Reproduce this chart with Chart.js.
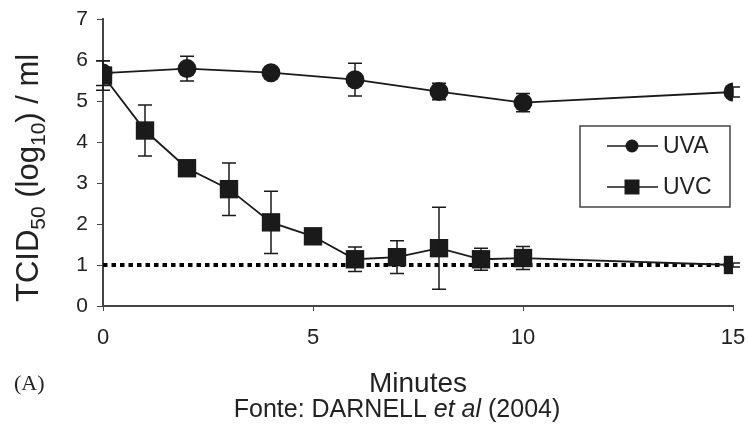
<!DOCTYPE html>
<html>
<head>
<meta charset="utf-8">
<script src="https://cdn.jsdelivr.net/npm/chart.js@4.4.1/dist/chart.umd.min.js"></script>
<style>
  html, body { margin: 0; padding: 0; background: #fff; }
  #wrap { width: 748px; height: 425px; }
</style>
</head>
<body>
<div id="wrap"><canvas id="myChart" width="748" height="425"></canvas></div>
<script>
(function () {
    "use strict";

    // values (minutes vs TCID50 log10/ml)
    const uvaMinutes = [0, 2, 4, 6, 8, 10, 15];
    const uvaValues = [5.68, 5.79, 5.69, 5.52, 5.23, 4.96, 5.22];
    const uvaError = [0.3, 0.3, 0.08, 0.4, 0.2, 0.22, 0.12];

    const uvcMinutes = [0, 1, 2, 3, 4, 5, 6, 7, 8, 9, 10, 15];
    const uvcValues = [5.62, 4.28, 3.36, 2.85, 2.04, 1.70, 1.14, 1.19, 1.41, 1.14, 1.17, 1.0];
    const uvcError = [0.36, 0.62, 0.1, 0.64, 0.76, 0.1, 0.3, 0.4, 1.0, 0.27, 0.28, 0.05];

    const limitMinutes = [0, 15];
    const limitValues = [1, 1];

    const xTicks = [0, 5, 10, 15];
    const yTicks = [0, 1, 2, 3, 4, 5, 6, 7];

    const ink = '#1a1a1a';
    const sans = '"Liberation Sans", Arial, sans-serif';

    function points(xs, ys) {
        return xs.map(function (x, i) { return { x: x, y: ys[i] }; });
    }

    // error bars drawn from the arrays above through the chart scales
    const errorBars = {
        id: 'errorBars',
        afterDatasetsDraw: function (chart) {
            const ctx = chart.ctx;
            const xs = chart.scales.x;
            const ys = chart.scales.y;
            const sets = [
                [uvaMinutes, uvaValues, uvaError],
                [uvcMinutes, uvcValues, uvcError]
            ];
            ctx.save();
            ctx.strokeStyle = ink;
            ctx.lineWidth = 1.5;
            sets.forEach(function (s) {
                s[0].forEach(function (m, i) {
                    const px = xs.getPixelForValue(m);
                    const top = ys.getPixelForValue(s[1][i] + s[2][i]);
                    const bot = ys.getPixelForValue(s[1][i] - s[2][i]);
                    ctx.beginPath();
                    ctx.moveTo(px, top); ctx.lineTo(px, bot);
                    ctx.moveTo(px - 7, top); ctx.lineTo(px + 7, top);
                    ctx.moveTo(px - 7, bot); ctx.lineTo(px + 7, bot);
                    ctx.stroke();
                });
            });
            ctx.restore();
        }
    };

    // axis titles, legend box and source line
    const decorations = {
        id: 'decorations',
        afterDraw: function (chart) {
            const ctx = chart.ctx;
            const area = chart.chartArea;
            ctx.save();
            ctx.fillStyle = '#222';

            // y title with subscripts, rotated
            ctx.translate(38, 302);
            ctx.rotate(-Math.PI / 2);
            ctx.textBaseline = 'alphabetic';
            let x = 0;
            const big = 'normal 31px ' + sans;
            const small = 'normal 21px ' + sans;
            const parts = [
                ['TCID', big, 0], ['50', small, 7], [' (log', big, 0],
                ['10', small, 7], [') / ml', big, 0]
            ];
            parts.forEach(function (p) {
                ctx.font = p[1];
                ctx.fillText(p[0], x, p[2]);
                x += ctx.measureText(p[0]).width;
            });
            ctx.setTransform(1, 0, 0, 1, 0, 0);

            // x title
            ctx.textAlign = 'center';
            ctx.textBaseline = 'middle';
            ctx.font = 'normal 28px ' + sans;
            ctx.fillText('Minutes', (area.left + area.right) / 2, 384);

            // panel letter
            ctx.textAlign = 'left';
            ctx.font = 'normal 22px "Liberation Serif", "Times New Roman", serif';
            ctx.fillText('(A)', 14, 384);

            // source line with italic "et al"
            const srcParts = [
                ['Fonte: DARNELL ', 'normal 25px ' + sans],
                ['et al', 'italic 25px ' + sans],
                [' (2004)', 'normal 25px ' + sans]
            ];
            let total = 0;
            srcParts.forEach(function (p) { ctx.font = p[1]; total += ctx.measureText(p[0]).width; });
            let sx = 397 - total / 2;
            srcParts.forEach(function (p) {
                ctx.font = p[1];
                ctx.fillText(p[0], sx, 410);
                sx += ctx.measureText(p[0]).width;
            });

            // legend
            ctx.strokeStyle = '#444';
            ctx.lineWidth = 1.5;
            ctx.strokeRect(580, 126, 150, 81);
            ctx.strokeStyle = ink;
            ctx.fillStyle = ink;
            ctx.lineWidth = 1.5;
            [146, 187].forEach(function (ly) {
                ctx.beginPath();
                ctx.moveTo(607, ly); ctx.lineTo(658, ly);
                ctx.stroke();
            });
            ctx.beginPath();
            ctx.arc(632, 146, 6.5, 0, Math.PI * 2);
            ctx.fill();
            ctx.fillRect(624.5, 179.5, 15, 15);
            ctx.font = 'normal 23px ' + sans;
            ctx.fillStyle = '#222';
            ctx.fillText('UVA', 663, 147);
            ctx.fillText('UVC', 663, 188);

            ctx.restore();
        }
    };

    const ctx = document.getElementById('myChart').getContext('2d');
    new Chart(ctx, {
        type: 'line',
        data: {
            datasets: [
                {
                    label: 'UVA',
                    data: points(uvaMinutes, uvaValues),
                    borderColor: ink,
                    backgroundColor: ink,
                    borderWidth: 1.8,
                    pointStyle: 'circle',
                    pointRadius: 9.5,
                    pointBorderWidth: 0,
                    tension: 0,
                    order: 2
                },
                {
                    label: 'UVC',
                    data: points(uvcMinutes, uvcValues),
                    borderColor: ink,
                    backgroundColor: ink,
                    borderWidth: 1.8,
                    pointStyle: 'rect',
                    pointRadius: 13,
                    pointBorderWidth: 0,
                    tension: 0,
                    order: 1
                },
                {
                    label: 'limit',
                    data: points(limitMinutes, limitValues),
                    borderColor: '#000',
                    borderWidth: 4,
                    borderDash: [4.5, 4],
                    borderCapStyle: 'butt',
                    pointRadius: 0,
                    order: 3
                }
            ]
        },
        options: {
            responsive: false,
            animation: false,
            devicePixelRatio: 1,
            layout: { autoPadding: false, padding: { top: 19, right: 15, left: 0, bottom: 0 } },
            plugins: {
                legend: { display: false },
                tooltip: { enabled: false }
            },
            scales: {
                x: {
                    type: 'linear',
                    min: 0,
                    max: 15,
                    afterBuildTicks: function (scale) {
                        scale.ticks = xTicks.map(function (v) { return { value: v }; });
                    },
                    afterFit: function (scale) {
                        scale.height = 119;
                        scale.paddingLeft = 0;
                        scale.paddingRight = 0;
                    },
                    grid: { drawOnChartArea: false, drawTicks: true, tickLength: 5, color: '#444' },
                    border: { display: true, color: '#444', width: 2 },
                    ticks: { color: '#222', padding: 14, font: { family: sans, size: 22 } }
                },
                y: {
                    min: 0,
                    max: 7,
                    afterBuildTicks: function (scale) {
                        scale.ticks = yTicks.map(function (v) { return { value: v }; });
                    },
                    afterFit: function (scale) {
                        scale.width = 103;
                        scale.paddingTop = 0;
                        scale.paddingBottom = 0;
                    },
                    grid: { drawOnChartArea: false, drawTicks: true, tickLength: 6, color: '#444' },
                    border: { display: true, color: '#444', width: 2 },
                    ticks: { color: '#222', padding: 9, font: { family: sans, size: 21 } }
                }
            }
        },
        plugins: [errorBars, decorations]
    });
})();
</script>
</body>
</html>
